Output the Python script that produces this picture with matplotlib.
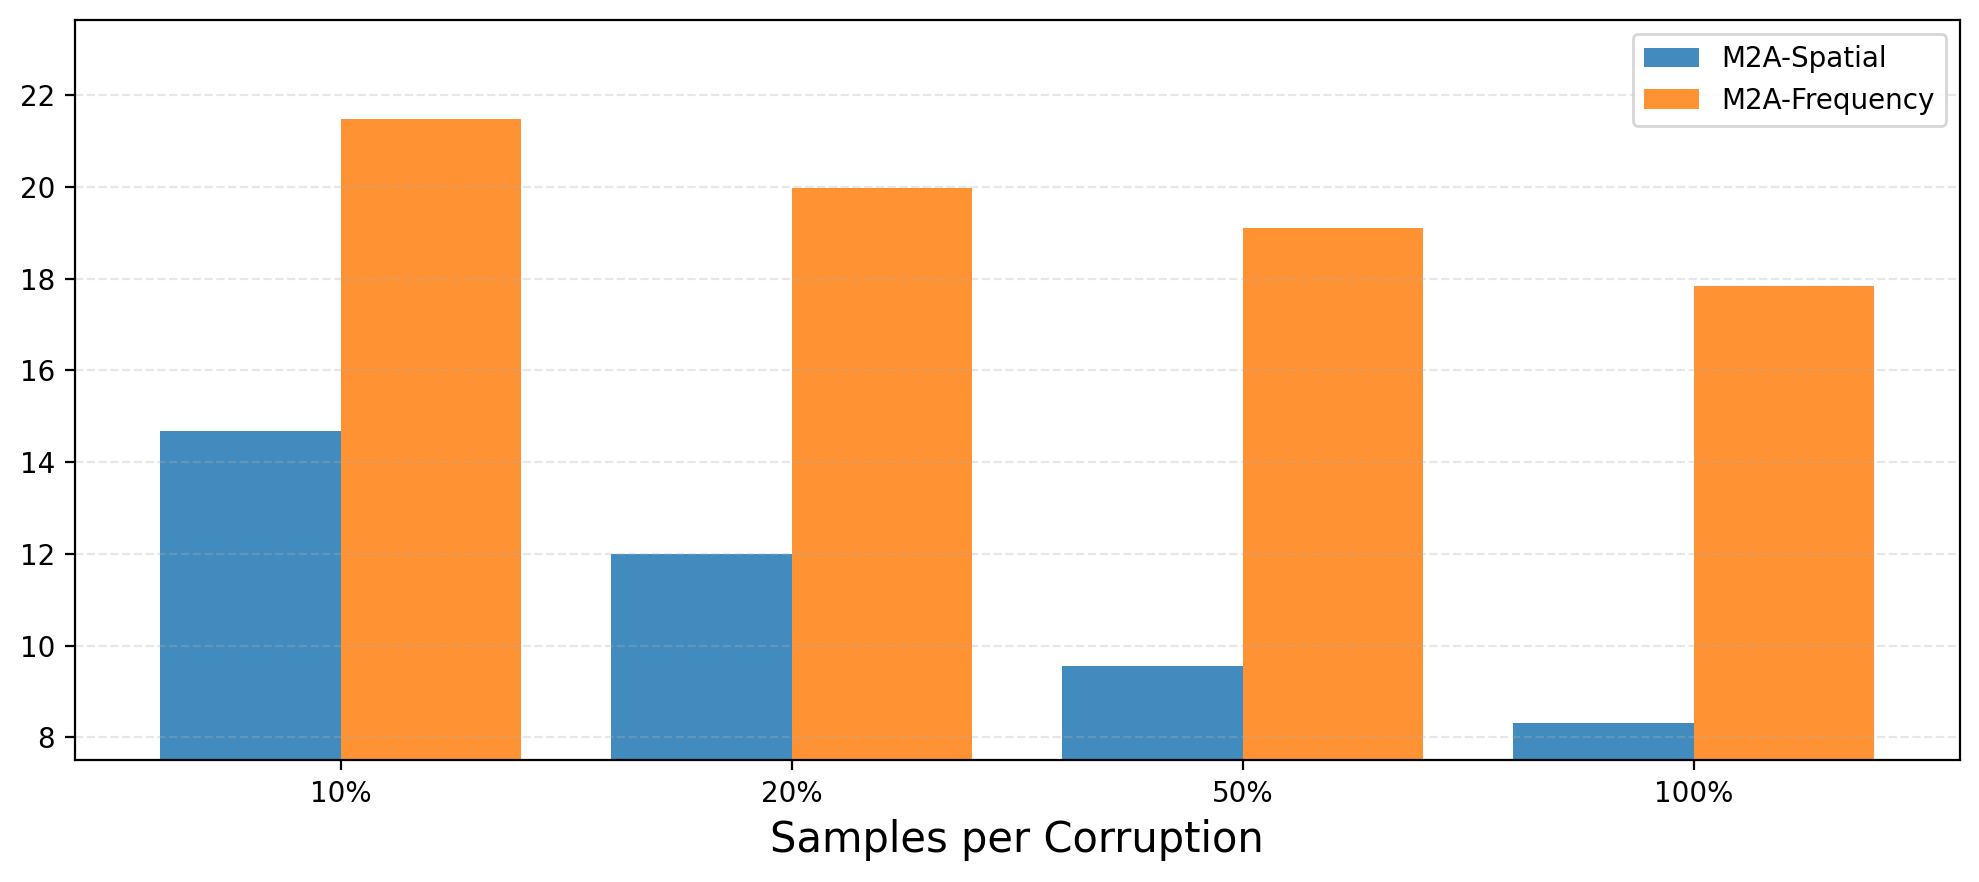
import numpy as np
import matplotlib
matplotlib.use("Agg")
import matplotlib.pyplot as plt

categories = ['10%', '20%', '50%', '100%']
spatial = [14.68, 11.99, 9.56, 8.32]
frequency = [21.49, 19.98, 19.11, 17.84]

x = np.arange(len(categories))
width = 0.4

fig, ax = plt.subplots(figsize=(9.895, 4.41), dpi=200)
ax.bar(x - width / 2, spatial, width, label='M2A-Spatial', color='tab:blue', alpha=0.85)
ax.bar(x + width / 2, frequency, width, label='M2A-Frequency', color='tab:orange', alpha=0.85)

ax.set_xticks(x)
ax.set_xticklabels(categories)
ax.set_xlabel('Samples per Corruption', fontsize=15)
ax.set_ylim(7.5, max(frequency) * 1.1)
ax.grid(axis='y', linestyle='--', alpha=0.3)
ax.legend(loc='upper right')

fig.subplots_adjust(left=0.0377, right=0.9904, top=0.9773, bottom=0.138)
fig.savefig('out.png', dpi=200)
